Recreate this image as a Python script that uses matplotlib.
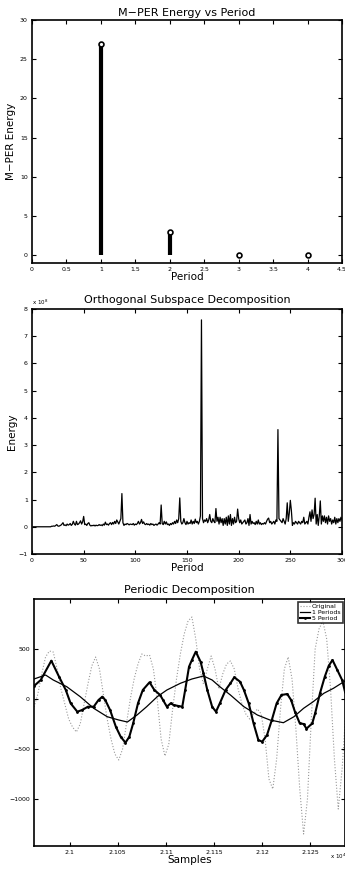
import numpy as np
import matplotlib
matplotlib.use('Agg')
import matplotlib.pyplot as plt

# ---- data ----
# M-PER energy per period
mper_period = [1, 2, 3, 4]
mper_energy = [27, 3, 0, 0]

# orthogonal subspace energy (x 1e8) for periods 1..300
osd_energy = [0.0] * 18 + [
    0.02, 0.02, 0.03, 0.02, 0.05, 0.08, 0.03, 0.02, 0.04, 0.06, 0.1, 0.15,
    0.05, 0.07, 0.04, 0.1, 0.06, 0.08, 0.12, 0.05, 0.09, 0.2,
    0.1, 0.06, 0.2, 0.08, 0.1, 0.15, 0.22, 0.1, 0.18, 0.38,
    0.08, 0.1, 0.05, 0.12, 0.15, 0.06, 0.03, 0.05, 0.04, 0.06,
    0.03, 0.06, 0.04, 0.05, 0.08, 0.05, 0.07, 0.04, 0.1, 0.06,
    0.17, 0.08, 0.1, 0.06, 0.12, 0.15, 0.08, 0.16, 0.1, 0.2,
    0.12, 0.25, 0.18, 0.1, 0.2, 0.3, 1.22, 0.15, 0.05, 0.1,
    0.08, 0.12, 0.1, 0.07, 0.1, 0.09, 0.08, 0.12, 0.06, 0.1,
    0.08, 0.12, 0.2, 0.1, 0.15, 0.27, 0.12, 0.18, 0.1, 0.08,
    0.12, 0.08, 0.1, 0.06, 0.12, 0.08, 0.1, 0.05, 0.08, 0.1,
    0.06, 0.1, 0.15, 0.1, 0.8, 0.12, 0.08, 0.2, 0.1, 0.18,
    0.08, 0.1, 0.05, 0.12, 0.08, 0.15, 0.1, 0.2, 0.12, 0.25,
    0.15, 0.3, 1.06, 0.2, 0.1, 0.15, 0.3, 0.15, 0.08, 0.2,
    0.1, 0.15, 0.12, 0.25, 0.1, 0.2, 0.12, 0.28, 0.15, 0.2,
    0.1, 0.2, 0.4, 7.6, 0.3, 0.15, 0.25, 0.2, 0.3, 0.15,
    0.25, 0.45, 0.2, 0.15, 0.3, 0.2, 0.15, 0.67, 0.2, 0.35,
    0.1, 0.35, 0.15, 0.3, 0.05, 0.3, 0.1, 0.35, 0.05, 0.4,
    0.1, 0.45, 0.05, 0.3, 0.1, 0.35, 0.15, 0.2, 0.65, 0.3,
    0.15, 0.25, 0.1, 0.15, 0.2, 0.25, 0.1, 0.15, 0.3, 0.05,
    0.45, 0.1, 0.2, 0.12, 0.15, 0.08, 0.2, 0.1, 0.25, 0.1,
    0.15, 0.08, 0.12, 0.1, 0.15, 0.1, 0.2, 0.28, 0.32, 0.15,
    0.2, 0.1, 0.15, 0.2, 0.1, 0.25, 0.2, 3.57, 0.3, 0.25,
    0.2, 0.15, 0.3, 0.2, 0.1, 0.3, 0.88, 0.2, 0.5, 0.97,
    0.6, 0.05, 0.15, 0.1, 0.2, 0.15, 0.1, 0.2, 0.15, 0.1,
    0.2, 0.15, 0.35, 0.1, 0.15, 0.2, 0.1, 0.35, 0.55, 0.2,
    0.62, 0.3, 0.45, 1.05, 0.1, 0.45, 0.05, 0.4, 0.95, 0.1,
    0.4, 0.2, 0.4, 0.15, 0.35, 0.1, 0.4, 0.2, 0.3, 0.1,
    0.25, 0.15, 0.35, 0.1, 0.3, 0.15, 0.3, 0.2, 0.35, 0.25,
]
osd_period = np.arange(1, len(osd_energy) + 1)

# periodic decomposition
orig_s = [20963, 20967, 20971, 20975, 20979, 20983, 20987, 20991, 20995, 20999,
          21003, 21007, 21011, 21015, 21019, 21023, 21027, 21031, 21035, 21039,
          21043, 21047, 21051, 21055, 21059, 21063, 21067, 21071, 21075, 21079,
          21083, 21087, 21091, 21095, 21099, 21103, 21107, 21111, 21115, 21119,
          21123, 21127, 21131, 21135, 21139, 21143, 21147, 21151, 21155, 21159,
          21163, 21167, 21171, 21175, 21179, 21183, 21187, 21191, 21195, 21199,
          21203, 21207, 21211, 21215, 21219, 21223, 21227, 21231, 21235, 21239,
          21243, 21247, 21251, 21255, 21259, 21263, 21267, 21271, 21275, 21279,
          21283, 21287]
orig_v = [-80, 50, 250, 420, 480, 470, 300, 100, -50, -200,
          -280, -330, -250, -50, 150, 330, 420, 300, 50, -200,
          -400, -550, -610, -500, -250, 0, 200, 350, 450, 430,
          440, 300, 0, -400, -570, -450, -100, 200, 450, 650,
          780, 820, 600, 300, 150, 300, 430, 300, 100, 250,
          350, 380, 300, 100, -50, -150, -200, -150, -100, -150,
          -400, -800, -900, -600, -100, 300, 420, 200, -300, -900,
          -1350, -1000, -200, 500, 700, 780, 600, 100, -600, -1100,
          -700, -100]

p1_s = [20963, 20975, 20983, 20997, 21011, 21025, 21039, 21051, 21060, 21070,
        21080, 21091, 21101, 21115, 21127, 21139, 21148, 21156, 21167, 21181,
        21195, 21208, 21222, 21233, 21243, 21253, 21264, 21274, 21286]
p1_v = [200, 240, 190, 123, 23, -93, -177, -210, -230, -160,
        -77, 23, 90, 157, 200, 230, 190, 123, 40, -77,
        -160, -210, -237, -177, -93, -27, 57, 107, 180]

p5_s = [20963, 20970, 20981, 20989, 20996, 21001, 21008, 21013, 21019, 21025,
        21030, 21034, 21037, 21042, 21048, 21053, 21058, 21062, 21066, 21071,
        21076, 21083, 21088, 21094, 21097, 21101, 21105, 21108, 21113, 21117,
        21120, 21124, 21127, 21131, 21136, 21139, 21143, 21148, 21152, 21156,
        21162, 21167, 21171, 21177, 21181, 21186, 21191, 21196, 21200, 21205,
        21210, 21215, 21220, 21226, 21230, 21234, 21239, 21243, 21246, 21252,
        21255, 21260, 21265, 21269, 21273, 21278, 21283, 21286]
p5_v = [130, 190, 383, 223, 90, -43, -127, -110, -77, -77,
        -10, 23, -10, -110, -277, -377, -437, -377, -243, -43,
        90, 167, 90, 40, -10, -77, -43, -60, -70, -77,
        90, 323, 390, 473, 373, 257, 90, -77, -127, -43,
        90, 157, 217, 173, 90, -43, -243, -410, -427, -360,
        -210, -43, 40, 50, -10, -127, -243, -250, -297, -243,
        -143, 57, 223, 330, 390, 290, 190, 73]

W, H = 345, 869
fig = plt.figure(figsize=(W / 100, H / 100), dpi=100)

title_fs = 8
label_fs = 7.5
tick_fs = 4.5


def matlab_axes(ax):
    ax.tick_params(direction='in', length=3, width=0.8, labelsize=tick_fs,
                   top=True, right=True, pad=3)
    for sp in ax.spines.values():
        sp.set_linewidth(1.2)


# ---- plot 1 ----
ax1 = fig.add_axes([32 / W, 1 - 263 / H, 310 / W, 243 / H])
ax1.vlines(mper_period, 0, mper_energy, color='k', lw=3)
ax1.plot(mper_period, mper_energy, 'o', mfc='white', mec='k', ms=3.5, mew=1.2)
ax1.set_xlim(0, 4.5)
ax1.set_ylim(-1, 30)
ax1.set_xticks(np.arange(0, 4.51, 0.5))
ax1.set_xticklabels(['0', '0.5', '1', '1.5', '2', '2.5', '3', '3.5', '4', '4.5'])
ax1.set_yticks([0, 5, 10, 15, 20, 25, 30])
ax1.set_title('M\u2212PER Energy vs Period', fontsize=title_fs, pad=3)
ax1.set_xlabel('Period', fontsize=label_fs, labelpad=0)
ax1.set_ylabel('M\u2212PER Energy', fontsize=label_fs)
ax1.yaxis.set_label_coords(-0.05, 0.5)
matlab_axes(ax1)

# ---- plot 2 ----
ax2 = fig.add_axes([32 / W, 1 - 554 / H, 310 / W, 245 / H])
ax2.plot(osd_period, osd_energy, color='k', lw=0.9)
ax2.set_xlim(0, 300)
ax2.set_ylim(-1, 8)
ax2.set_xticks(np.arange(0, 301, 50))
ax2.set_yticks(np.arange(-1, 9, 1))
ax2.set_title('Orthogonal Subspace Decomposition', fontsize=title_fs, pad=4)
ax2.set_xlabel('Period', fontsize=label_fs, labelpad=0)
ax2.set_ylabel('Energy', fontsize=label_fs)
ax2.yaxis.set_label_coords(-0.05, 0.5)
ax2.text(0, 1.008, 'x 10$^8$', transform=ax2.transAxes, fontsize=4, ha='left', va='bottom')
matlab_axes(ax2)

# ---- plot 3 ----
ax3 = fig.add_axes([34 / W, 1 - 846 / H, 311 / W, 247 / H])
ax3.plot(orig_s, orig_v, color='0.6', ls=':', lw=0.8, label='Original')
ax3.plot(p1_s, p1_v, color='k', lw=0.9, label='1 Periods')
ax3.plot(p5_s, p5_v, color='k', lw=1.5, marker='.', ms=2, label='5 Period')
ax3.set_xlim(20963, 21286)
ax3.set_ylim(-1470, 1000)
ax3.set_xticks([21000, 21050, 21100, 21150, 21200, 21250])
ax3.set_xticklabels(['2.1', '2.105', '2.11', '2.115', '2.12', '2.125'])
ax3.set_yticks([-1000, -500, 0, 500])
ax3.set_yticklabels(['\u22121000', '\u2212500', '0', '500'])
ax3.set_title('Periodic Decomposition', fontsize=title_fs, pad=4)
ax3.set_xlabel('Samples', fontsize=label_fs, labelpad=0)
leg = ax3.legend(loc='upper right', fontsize=4.5, frameon=True, fancybox=False,
                 borderpad=0.3, labelspacing=0.15, handlelength=1.6,
                 handletextpad=0.4, borderaxespad=0.4)
leg.get_frame().set_edgecolor('k')
leg.get_frame().set_linewidth(1.2)
matlab_axes(ax3)
fig.text(330 / W, 1 - 856 / H, 'x 10$^4$', fontsize=4, ha='left', va='center')

fig.savefig('out.png', dpi=100)
